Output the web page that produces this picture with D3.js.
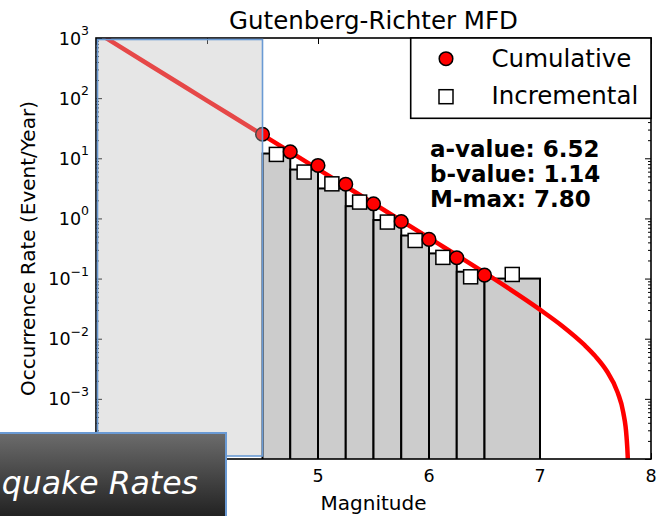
<!DOCTYPE html>
<html>
<head>
<meta charset="utf-8">
<script src="https://cdn.jsdelivr.net/npm/d3@7"></script>
<style>
  html, body { margin: 0; padding: 0; background: #fff; }
  svg { display: block; }
  text { font-family: "DejaVu Sans", sans-serif; }
</style>
</head>
<body>
<svg id="chart" width="660" height="516"></svg>
<script>
// ---------------- data ----------------
const title = "Gutenberg-Richter MFD";
const xLabel = "Magnitude";
const yLabel = "Occurrence Rate (Event/Year)";
const xTicks = [3, 4, 5, 6, 7, 8];
const xTickLabels = [5, 6, 7, 8];          // 3 and 4 are hidden by the banner
const yTickExps = [-4, -3, -2, -1, 0, 1, 2, 3];
const yTickLabelExps = [-3, -2, -1, 0, 1, 2, 3]; // 10^-4 is hidden by the banner

// histogram bars (incremental bins)
const binStart = [4.5, 4.75, 5.0, 5.25, 5.5, 5.75, 6.0, 6.25, 6.5];
const binEnd   = [4.75, 5.0, 5.25, 5.5, 5.75, 6.0, 6.25, 6.5, 7.0];
const barRate  = [12.0, 6.5, 3.15, 1.60, 0.94, 0.52, 0.262, 0.130, 0.100];

// incremental markers (squares)
const incM    = [4.625, 4.875, 5.125, 5.375, 5.625, 5.875, 6.125, 6.375, 6.75];
const incRate = [11.6, 5.9, 3.76, 1.87, 0.87, 0.43, 0.225, 0.107, 0.117];

// cumulative markers (circles)
const cumM    = [4.5, 4.75, 5.0, 5.25, 5.5, 5.75, 6.0, 6.25, 6.5];
const cumRate = [25.1, 12.8, 7.6, 3.71, 1.75, 0.89, 0.448, 0.222, 0.114];

// fitted truncated G-R curve
const curveM    = [3.09, 3.5, 4.0, 4.5, 5.0, 5.5, 6.0, 6.5, 7.0, 7.2, 7.4, 7.5, 7.6, 7.7, 7.75, 7.78, 7.79, 7.795];
const curveRate = [1000, 339, 91.2, 24.5, 6.61, 1.77, 0.474, 0.125, 0.0304, 0.0163, 0.00788, 0.00508, 0.00293, 0.00127, 0.000596, 0.000229, 0.000113, 0.00006];

const legendLabels = ["Cumulative", "Incremental"];
const statsLines = ["a-value: 6.52", "b-value: 1.14", "M-max: 7.80"];
const bannerText = "quake Rates";

// ---------------- layout ----------------
const svg = d3.select("#chart");
const L = 96, R = 651, T = 38, B = 459;

const x = d3.scaleLinear().domain([3, 8]).range([L, R]);
const y = d3.scaleLog().domain([1e-4, 1e3]).range([B, T]);

svg.append("rect").attr("width", 660).attr("height", 516).attr("fill", "#fff");

const defs = svg.append("defs");
defs.append("clipPath").attr("id", "plotclip")
  .append("rect").attr("x", L).attr("y", T).attr("width", R - L).attr("height", B - T);
const grad = defs.append("linearGradient").attr("id", "bannerGrad")
  .attr("x1", 0).attr("y1", 0).attr("x2", 0).attr("y2", 1);
grad.append("stop").attr("offset", "0%").attr("stop-color", "#6c6c6c");
grad.append("stop").attr("offset", "100%").attr("stop-color", "#1c1c1c");

const plot = svg.append("g").attr("clip-path", "url(#plotclip)");

// bars
plot.selectAll("rect.bar").data(binStart).enter().append("rect")
  .attr("class", "bar")
  .attr("x", (d, i) => x(d))
  .attr("y", (d, i) => y(barRate[i]))
  .attr("width", (d, i) => x(binEnd[i]) - x(d))
  .attr("height", (d, i) => B + 2 - y(barRate[i]))
  .attr("fill", "#cccccc")
  .attr("stroke", "#000")
  .attr("stroke-width", 2);

// curve
const line = d3.line().x((d, i) => x(d)).y((d, i) => y(curveRate[i])).curve(d3.curveMonotoneX);
plot.append("path").datum(curveM)
  .attr("d", line)
  .attr("fill", "none")
  .attr("stroke", "#ff0000")
  .attr("stroke-width", 4.5);

// incremental squares
const sq = 14;
svg.selectAll("rect.inc").data(incM).enter().append("rect")
  .attr("class", "inc")
  .attr("x", d => x(d) - sq / 2)
  .attr("y", (d, i) => y(incRate[i]) - sq / 2)
  .attr("width", sq).attr("height", sq)
  .attr("fill", "#fff").attr("stroke", "#000").attr("stroke-width", 1.5);

// cumulative circles
svg.selectAll("circle.cum").data(cumM).enter().append("circle")
  .attr("class", "cum")
  .attr("cx", d => x(d))
  .attr("cy", (d, i) => y(cumRate[i]))
  .attr("r", 6.8)
  .attr("fill", "#ff0000").attr("stroke", "#000").attr("stroke-width", 1.5);

// ---------------- axes ----------------
const majorY = yTickExps.map(e => Math.pow(10, e));
const minorY = [];
for (let e = -4; e < 3; e++) for (let k = 2; k <= 9; k++) minorY.push(k * Math.pow(10, e));

function styleAxis(g) {
  g.select(".domain").remove();
  g.selectAll(".tick line").attr("stroke", "#000").attr("stroke-width", 1);
  g.selectAll(".tick text").remove();
}
svg.append("g").attr("transform", `translate(0,${B})`)
  .call(d3.axisBottom(x).tickValues(xTicks).tickSize(-6)).call(styleAxis);
svg.append("g").attr("transform", `translate(0,${T})`)
  .call(d3.axisTop(x).tickValues(xTicks).tickSize(-6)).call(styleAxis);
svg.append("g").attr("transform", `translate(${L},0)`)
  .call(d3.axisLeft(y).tickValues(majorY).tickSize(-6)).call(styleAxis);
svg.append("g").attr("transform", `translate(${L},0)`)
  .call(d3.axisLeft(y).tickValues(minorY).tickSize(-3)).call(styleAxis);
svg.append("g").attr("transform", `translate(${R},0)`)
  .call(d3.axisRight(y).tickValues(majorY).tickSize(-6)).call(styleAxis);
svg.append("g").attr("transform", `translate(${R},0)`)
  .call(d3.axisRight(y).tickValues(minorY).tickSize(-3)).call(styleAxis);

// frame
svg.append("rect").attr("x", L).attr("y", T).attr("width", R - L).attr("height", B - T)
  .attr("fill", "none").attr("stroke", "#000").attr("stroke-width", 1.6);

// x tick labels
svg.selectAll("text.xt").data(xTickLabels).enter().append("text")
  .attr("class", "xt")
  .attr("x", d => x(d)).attr("y", 482)
  .attr("text-anchor", "middle").attr("font-size", 17.5).attr("fill", "#000")
  .text(d => d);

// y tick labels with superscripts
const yt = svg.selectAll("text.yt").data(yTickLabelExps).enter().append("text")
  .attr("class", "yt")
  .attr("x", 89).attr("y", d => y(Math.pow(10, d)) + 6.5)
  .attr("text-anchor", "end").attr("font-size", 17.5).attr("fill", "#000");
yt.append("tspan").text("10");
yt.append("tspan").attr("dy", -9.5).attr("font-size", 12.5)
  .text(d => (d < 0 ? "\u2212" + (-d) : "" + d));

// titles
svg.append("text").attr("x", (L + R) / 2).attr("y", 29)
  .attr("text-anchor", "middle").attr("font-size", 24.5).text(title);
svg.append("text").attr("x", (L + R) / 2).attr("y", 510)
  .attr("text-anchor", "middle").attr("font-size", 20).text(xLabel);
svg.append("text").attr("transform", `translate(35,${(T + B) / 2}) rotate(-90)`)
  .attr("text-anchor", "middle").attr("font-size", 20).text(yLabel);

// legend
const lg = svg.append("g");
lg.append("rect").attr("x", 410.7).attr("y", T).attr("width", R - 410.7).attr("height", 118.3 - T)
  .attr("fill", "#fff").attr("stroke", "#000").attr("stroke-width", 1.6);
lg.append("circle").attr("cx", 446).attr("cy", 58.7).attr("r", 6.8)
  .attr("fill", "#ff0000").attr("stroke", "#000").attr("stroke-width", 1.5);
lg.append("rect").attr("x", 446 - sq / 2).attr("y", 96.7 - sq / 2).attr("width", sq).attr("height", sq)
  .attr("fill", "#fff").attr("stroke", "#000").attr("stroke-width", 1.5);
lg.selectAll("text").data(legendLabels).enter().append("text")
  .attr("x", 491.5).attr("y", (d, i) => 67 + i * 36.7)
  .attr("font-size", 24.5).text(d => d);

// stats text
svg.selectAll("text.stat").data(statsLines).enter().append("text")
  .attr("class", "stat")
  .attr("x", 430).attr("y", (d, i) => 157 + i * 24.8)
  .attr("font-size", 23).attr("font-weight", "bold").text(d => d);

// selection overlay (M < 4.5)
svg.append("rect")
  .attr("x", x(3) + 1.5).attr("y", T + 1.5)
  .attr("width", x(4.5) - x(3) - 1.5).attr("height", 456 - T - 1.5)
  .attr("fill", "rgb(190,190,190)").attr("fill-opacity", 0.38)
  .attr("stroke", "#6a9ad4").attr("stroke-width", 1.6);

// banner overlay
svg.append("rect").attr("x", -5).attr("y", 433).attr("width", 231).attr("height", 90)
  .attr("fill", "url(#bannerGrad)").attr("stroke", "#6a9ad4").attr("stroke-width", 2);
svg.append("text").attr("x", 198).attr("y", 494)
  .attr("text-anchor", "end")
  .attr("font-family", "'Open Sans', sans-serif").attr("font-style", "italic")
  .attr("font-size", 31.5).attr("fill", "#fff").text(bannerText);
</script>
</body>
</html>
